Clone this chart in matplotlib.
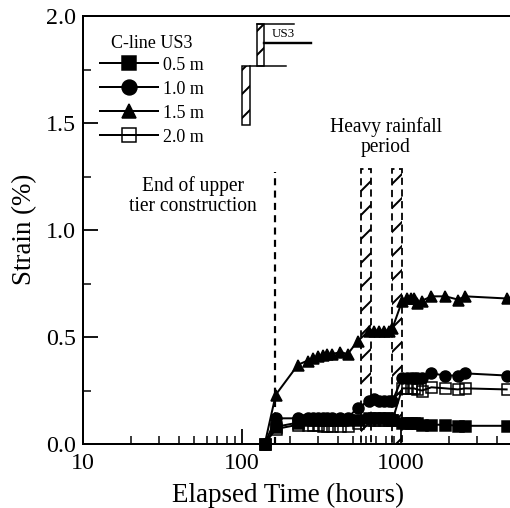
import matplotlib
matplotlib.use('Agg')
import matplotlib.pyplot as plt
from matplotlib.patches import Rectangle
from matplotlib.lines import Line2D

plt.rcParams['font.family'] = ['Liberation Serif', 'DejaVu Serif']
plt.rcParams['hatch.linewidth'] = 2.0

# elapsed hours
hours = [139, 163, 225, 259, 279, 300, 322, 341, 369, 416, 462, 533, 631, 678, 729, 783,
         841, 883, 1019, 1095, 1149, 1205, 1265, 1358, 1555, 1903, 2280, 2535, 4620]

strain_05 = [0.0, 0.08, 0.10, 0.11, 0.11, 0.11, 0.11, 0.11, 0.11, 0.11, 0.11, 0.11, 0.12, 0.12, 0.12, 0.12,
             0.12, 0.11, 0.10, 0.10, 0.10, 0.10, 0.10, 0.09, 0.09, 0.09, 0.085, 0.085, 0.085]
strain_10 = [0.0, 0.12, 0.12, 0.12, 0.12, 0.12, 0.12, 0.12, 0.12, 0.12, 0.12, 0.17, 0.20, 0.21, 0.20, 0.20,
             0.20, 0.20, 0.31, 0.31, 0.31, 0.31, 0.31, 0.31, 0.33, 0.32, 0.32, 0.33, 0.32]
strain_15 = [0.0, 0.23, 0.37, 0.39, 0.40, 0.41, 0.415, 0.42, 0.42, 0.43, 0.42, 0.48, 0.53, 0.53, 0.53, 0.53,
             0.53, 0.54, 0.67, 0.68, 0.68, 0.68, 0.66, 0.67, 0.69, 0.69, 0.675, 0.69, 0.68]
strain_20 = [0.0, 0.07, 0.09, 0.09, 0.09, 0.09, 0.085, 0.085, 0.085, 0.085, 0.085, 0.10, 0.11, 0.11, 0.11, 0.11,
             0.11, 0.11, 0.26, 0.26, 0.26, 0.26, 0.255, 0.25, 0.265, 0.26, 0.255, 0.26, 0.255]

x_ticks = [10, 100, 1000]
y_ticks = [0.0, 0.5, 1.0, 1.5, 2.0]
y_minor = [0.25, 0.75, 1.25, 1.75]

end_of_tier = 161
rain_periods = [(561, 648), (877, 1012)]
rain_top = 1.285

W, H = 510, 508
fig = plt.figure(figsize=(W / 72, H / 72), dpi=72)
ax = fig.add_axes([83 / W, 1 - 444 / H, 427 / W, 428 / H])

ax.set_xscale('log')
ax.set_xlim(10, 4850)
ax.set_ylim(0, 2)

# dashed boxes and line behind the data
ax.plot([end_of_tier, end_of_tier], [0, 1.27], color='k', lw=2.2, ls=(0, (3.2, 2.4)))
for x0, x1 in rain_periods:
    ax.add_patch(Rectangle((x0, 0), x1 - x0, rain_top, fill=False, edgecolor='k',
                           hatch='/', lw=1.8, ls=(0, (4, 2.5))))

series = [(strain_05, 's', 'k', '0.5 m'), (strain_10, 'o', 'k', '1.0 m'),
          (strain_15, '^', 'k', '1.5 m'), (strain_20, 's', 'none', '2.0 m')]
for vals, mk, face, lab in series:
    ax.plot(hours, vals, color='k', lw=2, marker=mk, mfc=face, mec='k', mew=1.5, ms=11,
            label=lab, clip_on=False, zorder=3)

ax.spines['right'].set_visible(False)
for s in ['left', 'top', 'bottom']:
    ax.spines[s].set_linewidth(2)
ax.set_xticks(x_ticks)
ax.set_xticklabels(['10', '100', '1000'])
ax.set_yticks(y_ticks)
ax.set_yticks(y_minor, minor=True)
ax.set_yticklabels(['0.0', '0.5', '1.0', '1.5', '2.0'])
ax.tick_params(which='major', direction='in', length=15, width=1.8, labelsize=24)
ax.tick_params(axis='x', which='major', pad=9)
ax.tick_params(axis='y', which='major', pad=7)
ax.tick_params(which='minor', direction='in', length=8, width=1.5)

fig.text(288 / W, 1 - 502 / H, 'Elapsed Time (hours)', fontsize=27, ha='center', va='baseline')
fig.text(25 / W, 1 - 229 / H, 'Strain (%)', fontsize=27, rotation=90, ha='center', va='center')

ax.legend(loc='upper left', bbox_to_anchor=(17 / 427, 1 - 40.5 / 428), frameon=False,
          fontsize=18, handlelength=3.22, labelspacing=0.39, handletextpad=0.28,
          borderpad=0, borderaxespad=0, markerscale=1.35)
fig.text(152 / W, 1 - 44 / H, 'C-line US3', fontsize=18, ha='center', va='center')

fig.text(193 / W, 1 - 211 / H, 'End of upper\ntier construction', fontsize=19.5, ha='center', va='baseline',
         multialignment='center', linespacing=1.1)
fig.text(386 / W, 1 - 152 / H, 'Heavy rainfall\nperiod', fontsize=19.5, ha='center', va='baseline',
         multialignment='center', linespacing=1.1)

# retaining wall sketch, placed in pixels
def box(x0, y0, x1, y1):
    fig.add_artist(Rectangle((x0 / W, 1 - y1 / H), (x1 - x0) / W, (y1 - y0) / H, fill=False, edgecolor='k',
                             hatch='/', lw=1.5, transform=fig.transFigure))

def hline(x0, x1, y, lw):
    fig.add_artist(Line2D([x0 / W, x1 / W], [1 - y / H, 1 - y / H], color='k', lw=lw))

box(257, 24, 264, 66)
box(242, 66, 250, 125)
hline(257, 294, 24, 1.5)
hline(264, 311, 43, 2.4)
hline(250, 286, 66, 1.5)
fig.text(283 / W, 1 - 34 / H, 'US3', fontsize=13, ha='center', va='center')

fig.savefig('out.png', dpi=72)
